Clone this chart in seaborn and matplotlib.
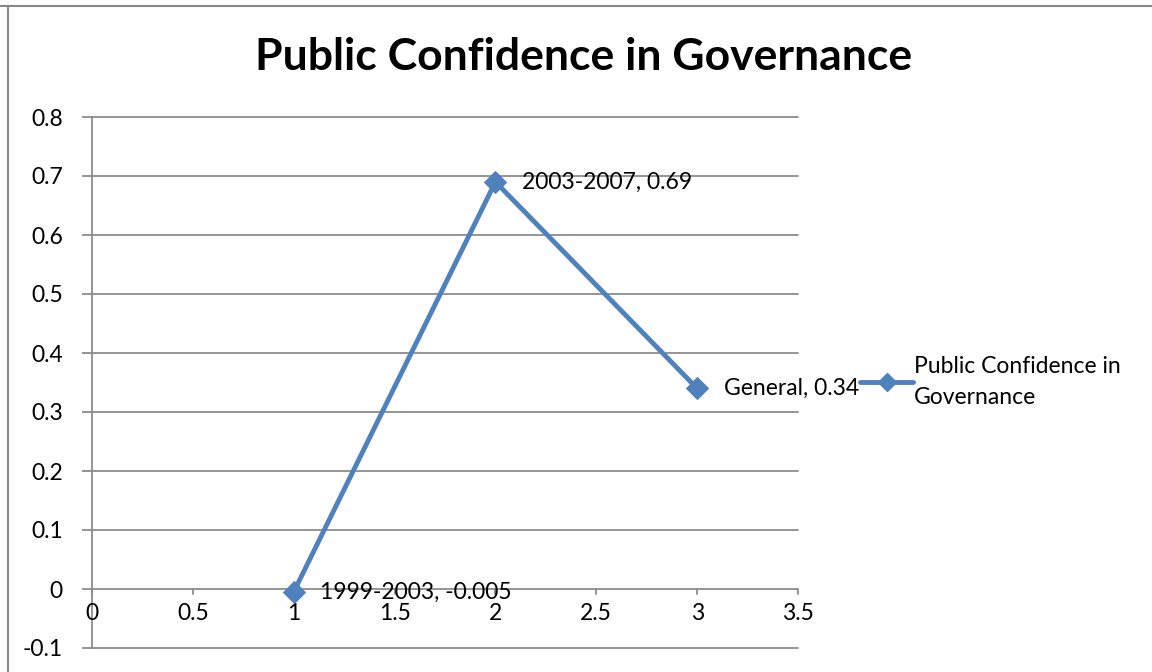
import matplotlib
matplotlib.use("Agg")
import matplotlib.pyplot as plt
from matplotlib.lines import Line2D
import seaborn as sns
import pandas as pd

# Series data
periods = ["1999-2003", "2003-2007", "General"]
x_values = [1, 2, 3]
confidence = [-0.005, 0.69, 0.34]
series_name = "Public Confidence in Governance"

x_ticks = [0, 0.5, 1, 1.5, 2, 2.5, 3, 3.5]
x_tick_labels = ["0", "0.5", "1", "1.5", "2", "2.5", "3", "3.5"]
y_ticks = [-0.1, 0, 0.1, 0.2, 0.3, 0.4, 0.5, 0.6, 0.7, 0.8]
y_tick_labels = ["-0.1", "0", "0.1", "0.2", "0.3", "0.4", "0.5", "0.6", "0.7", "0.8"]

sns.set_theme(style="white")
plt.rcParams["font.family"] = ["Lato", "DejaVu Sans"]
plt.rcParams["text.color"] = "black"
plt.rcParams["ytick.labelcolor"] = "black"

blue = "#4F81BD"
grid_gray = "#8C8C8C"
fs = 16.5

df = pd.DataFrame({"x": x_values, "y": confidence, "series": series_name})

fig = plt.figure(figsize=(11.52, 6.72), dpi=100)
fig.patch.set_facecolor("white")
ax = fig.add_axes([92 / 1152, 1 - 648 / 672, (798 - 92) / 1152, (648 - 117) / 672])

sns.lineplot(data=df, x="x", y="y", hue="series", palette=[blue], marker="D",
             markersize=11, linewidth=3.5, markeredgecolor=blue, ax=ax,
             legend=False, zorder=5, clip_on=False)

ax.set_xlim(0, 3.5)
ax.set_ylim(-0.1, 0.8)

# Horizontal gridlines with short outward stubs on the left
for yv in y_ticks:
    if yv == 0:
        continue
    ax.axhline(yv, color=grid_gray, lw=1.3, zorder=1, clip_on=False)
ax.set_yticks(y_ticks)
ax.set_yticklabels(y_tick_labels, fontsize=fs, color="black")
ax.tick_params(axis="y", length=7, width=1.3, color=grid_gray, direction="out",
               pad=14, left=True, labelcolor="black")

# Horizontal axis crosses at zero; labels sit below it
for s in ["top", "right", "bottom"]:
    ax.spines[s].set_visible(False)
ax.spines["left"].set_color(grid_gray)
ax.spines["left"].set_linewidth(1.3)
ax.axhline(0, color=grid_gray, lw=1.3, zorder=2)
ax.set_xticks([])
for xv, lab in zip(x_ticks, x_tick_labels):
    ax.plot([xv, xv], [0, -0.008], color=grid_gray, lw=1.3, clip_on=False, zorder=2)
    ax.text(xv, -0.042, lab, ha="center", va="center", fontsize=fs, color="black")
ax.set_xlabel("")
ax.set_ylabel("")

# Data labels to the right of each point
for xv, yv, lab in zip(x_values, confidence, periods):
    ax.annotate(f"{lab}, {yv:g}", (xv, yv), xytext=(19, 0), textcoords="offset points",
                ha="left", va="center", fontsize=fs, color="black", zorder=6)

fig.suptitle(series_name, x=584 / 1152, y=1 - 57 / 672, va="center",
             fontsize=32, fontweight="bold", color="black")

# Legend entry
handle = Line2D([], [], color=blue, lw=3.5, marker="D", markersize=9)
leg = fig.legend([handle], ["Public Confidence in\nGovernance"], loc="center left",
                 bbox_to_anchor=(851 / 1152, 1 - 382 / 672), frameon=False, fontsize=fs,
                 handlelength=2.3, handletextpad=0.05, borderaxespad=0, labelspacing=0)
for t in leg.get_texts():
    t.set_linespacing(1.55)
    t.set_color("black")

# Outer chart border (top and left edges)
fig.add_artist(Line2D([0, 1], [1 - 5.5 / 672] * 2, color="#888888", lw=1.5,
                      transform=fig.transFigure))
fig.add_artist(Line2D([8 / 1152] * 2, [0, 1 - 5.5 / 672], color="#888888", lw=1.5,
                      transform=fig.transFigure))

fig.savefig("out.png", dpi=100)
